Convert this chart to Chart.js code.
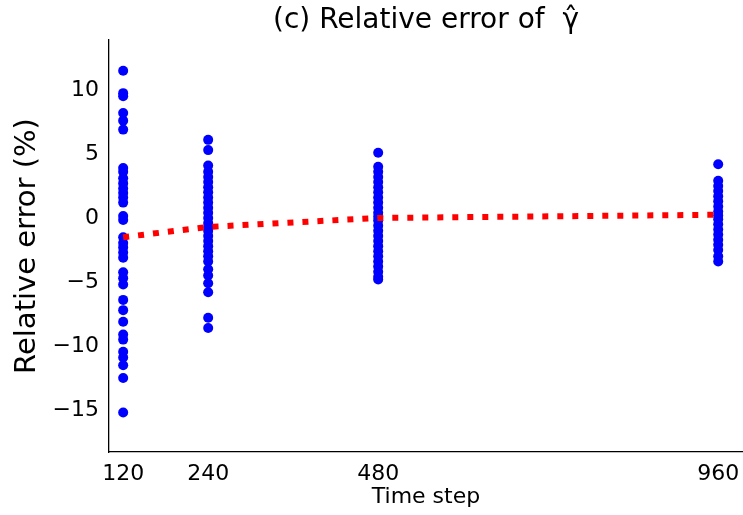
<!DOCTYPE html>
<html>
<head>
<meta charset="utf-8">
<script src="https://cdn.jsdelivr.net/npm/chart.js@4/dist/chart.umd.min.js"></script>
<style>
  html, body { margin: 0; padding: 0; background: #fff; }
  #wrap { width: 743px; height: 515px; position: relative; }
</style>
</head>
<body>
<div id="wrap"><canvas id="c"></canvas></div>
<script>
// ---- data ----
const timeSteps = [120, 240, 480, 960];
const xTickLabels = [120, 240, 480, 960];
const yTickValues = [-15, -10, -5, 0, 5, 10];

const err120 = [11.5, 9.75, 9.5, 8.2, 7.6, 6.9, 3.9, 3.6, 3.1, 2.7, 2.3, 1.95, 1.6, 1.2,
  0.15, -0.15, -1.5, -1.95, -2.3, -2.7, -3.1, -4.25, -4.7, -5.2, -6.4, -7.2, -8.1,
  -9.1, -9.5, -10.45, -10.9, -11.5, -12.5, -15.2];
const err240 = [6.1, 5.3, 4.1, 3.6, 3.2, 2.8, 2.4, 2.0, 1.6, 1.2, 0.8, 0.4, 0.0, -0.4,
  -0.7, -1.0, -1.4, -1.8, -2.2, -2.6, -3.0, -3.4, -4.0, -4.5, -5.1, -5.8, -7.8, -8.6];
const err480 = [5.1, 4.0, 3.6, 3.2, 2.8, 2.4, 2.0, 1.6, 1.2, 0.8, 0.4, 0.1, -0.2, -0.6,
  -1.0, -1.4, -1.8, -2.2, -2.6, -3.0, -3.4, -3.8, -4.2, -4.6, -4.8];
const err960 = [4.2, 2.9, 2.5, 2.1, 1.7, 1.3, 0.9, 0.5, 0.2, -0.1, -0.5, -0.9, -1.3,
  -1.7, -2.1, -2.5, -3.0, -3.4];
const meanErr = [-1.5, -0.7, 0.0, 0.25];

const errSeries = [err120, err240, err480, err960];
const scatterPts = [];
errSeries.forEach((arr, i) => arr.forEach(v => scatterPts.push({ x: timeSteps[i], y: v })));
const meanPts = timeSteps.map((t, i) => ({ x: t, y: meanErr[i] }));

const FONT = "'DejaVu Sans', sans-serif";
const minus = s => String(s).replace('-', '\u2212');

new Chart(document.getElementById('c'), {
  type: 'scatter',
  data: {
    datasets: [
      {
        type: 'line',
        data: meanPts,
        borderColor: '#ff0000',
        borderWidth: 6,
        borderDash: [6, 9],
        borderCapStyle: 'butt',
        pointRadius: 0,
        fill: false,
        tension: 0,
        order: 0
      },
      {
        type: 'scatter',
        data: scatterPts,
        backgroundColor: '#0000ff',
        borderColor: '#0000ff',
        borderWidth: 0,
        pointRadius: 5,
        order: 1
      }
    ]
  },
  options: {
    responsive: true,
    maintainAspectRatio: false,
    animation: false,
    devicePixelRatio: 1,
    layout: { autoPadding: false, padding: { left: 0, right: 0, top: 0, bottom: 0 } },
    plugins: {
      legend: { display: false },
      tooltip: { enabled: false },
      title: {
        display: true,
        fullSize: false,
        text: '(c) Relative error of  \u03B3\u0302',
        color: '#000',
        font: { family: FONT, size: 28, weight: 'normal', lineHeight: 1.2 },
        padding: { top: 4, bottom: 2.4 }
      }
    },
    scales: {
      x: {
        type: 'linear',
        min: 100,
        max: 995,
        afterBuildTicks: s => { s.ticks = xTickLabels.map(v => ({ value: v })); },
        afterFit: s => { s.height = 63; s.paddingLeft = 0; s.paddingRight = 0; },
        grid: { display: false, drawOnChartArea: false, drawTicks: true, tickLength: 6, tickColor: '#000', tickWidth: 1 },
        border: { display: true, color: '#000', width: 1.3 },
        ticks: { color: '#000', font: { family: FONT, size: 22 }, padding: 3, maxRotation: 0, autoSkip: false },
        title: {
          display: true,
          text: 'Time step',
          color: '#000',
          font: { family: FONT, size: 22 },
          padding: { top: 0, bottom: 5 }
        }
      },
      y: {
        type: 'linear',
        min: -18.28,
        max: 13.9,
        afterBuildTicks: s => { s.ticks = yTickValues.map(v => ({ value: v })); },
        afterFit: s => { s.width = 109; s.paddingTop = 0; s.paddingBottom = 0; },
        grid: { display: false, drawOnChartArea: false, drawTicks: true, tickLength: 6, tickColor: '#000', tickWidth: 1 },
        border: { display: true, color: '#000', width: 1.3 },
        ticks: { color: '#000', font: { family: FONT, size: 22 }, padding: 4, callback: v => minus(v) },
        title: {
          display: true,
          text: 'Relative error (%)',
          color: '#000',
          font: { family: FONT, size: 29 },
          padding: { top: 10, bottom: 0 }
        }
      }
    }
  }
});
</script>
</body>
</html>
